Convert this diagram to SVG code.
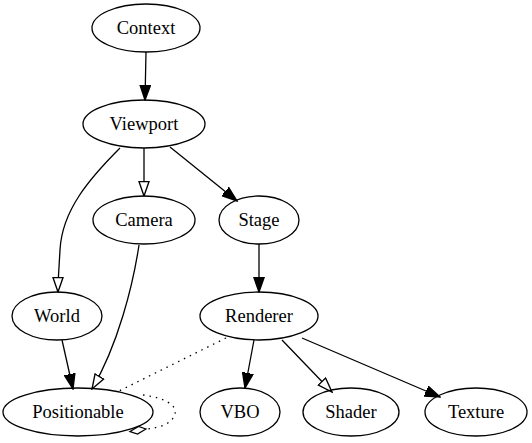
<svg xmlns="http://www.w3.org/2000/svg" width="532" height="443" viewBox="0 0 532 443">
<style>
.n ellipse{fill:none;stroke:#000;stroke-width:1.3}
.n text{font-family:"Liberation Serif","Times New Roman",serif;font-size:18.5px;text-anchor:middle;fill:#000}
.e path{fill:none;stroke:#000;stroke-width:1.3}
.d{stroke-dasharray:1.5 5}
</style>
<defs>
<marker id="f" markerUnits="userSpaceOnUse" markerWidth="16" markerHeight="12" viewBox="0 0 14 10" refX="13.3" refY="5" orient="auto">
<path d="M0,0.3 L13.3,5 L0,9.7 Z" fill="#000" stroke="#000" stroke-width="1.2"/>
</marker>
<marker id="o" markerUnits="userSpaceOnUse" markerWidth="16" markerHeight="12" viewBox="0 0 14 10" refX="13.3" refY="5" orient="auto">
<path d="M0.6,0.6 L13.3,5 L0.6,9.4 Z" fill="#fff" stroke="#000" stroke-width="1.2"/>
</marker>
</defs>
<rect width="532" height="443" fill="#fff"/>
<g class="e">
<path d="M146,52 L145,100" marker-end="url(#f)"/>
<path d="M144,148 L144,196" marker-end="url(#o)"/>
<path d="M170,147 L237,201" marker-end="url(#f)"/>
<path d="M120,148 C90,178 62,210 60,250 C59,268 58,280 58,292" marker-end="url(#o)"/>
<path d="M139,245 C133,285 118,345 92,389" marker-end="url(#o)"/>
<path d="M62,340 L73,389" marker-end="url(#f)"/>
<path d="M259,244 L259,292" marker-end="url(#f)"/>
<path d="M254,340 L245,388" marker-end="url(#f)"/>
<path d="M282,340 L332,392" marker-end="url(#o)"/>
<path d="M302,338 L440,397" marker-end="url(#f)"/>
<path class="d" d="M226,338 L117,392"/>
<path class="d" d="M143,395 C165,398 177,405 175,414 C173,423 160,428 146,429"/>
<path d="M146,429 L138.5,426.5 L130,431.5 L137.5,434 Z" fill="#fff" stroke="#000" stroke-width="1.2"/>
</g>
<g id="Context" class="n"><ellipse cx="146" cy="28" rx="54" ry="24"/><text x="146" y="34">Context</text></g>
<g id="Viewport" class="n"><ellipse cx="144" cy="124" rx="61" ry="24"/><text x="144" y="130">Viewport</text></g>
<g id="Camera" class="n"><ellipse cx="144" cy="220" rx="51" ry="24"/><text x="144" y="226">Camera</text></g>
<g id="Stage" class="n"><ellipse cx="259" cy="220" rx="40" ry="24"/><text x="259" y="226">Stage</text></g>
<g id="World" class="n"><ellipse cx="57" cy="316" rx="45" ry="24"/><text x="57" y="322">World</text></g>
<g id="Renderer" class="n"><ellipse cx="259" cy="316" rx="59" ry="24"/><text x="259" y="322">Renderer</text></g>
<g id="Positionable" class="n"><ellipse cx="78" cy="412" rx="75" ry="24"/><text x="78" y="418">Positionable</text></g>
<g id="VBO" class="n"><ellipse cx="240" cy="412" rx="40" ry="24"/><text x="240" y="418">VBO</text></g>
<g id="Shader" class="n"><ellipse cx="351" cy="412" rx="48" ry="24"/><text x="351" y="418">Shader</text></g>
<g id="Texture" class="n"><ellipse cx="476" cy="412" rx="51" ry="24"/><text x="476" y="418">Texture</text></g>
</svg>
